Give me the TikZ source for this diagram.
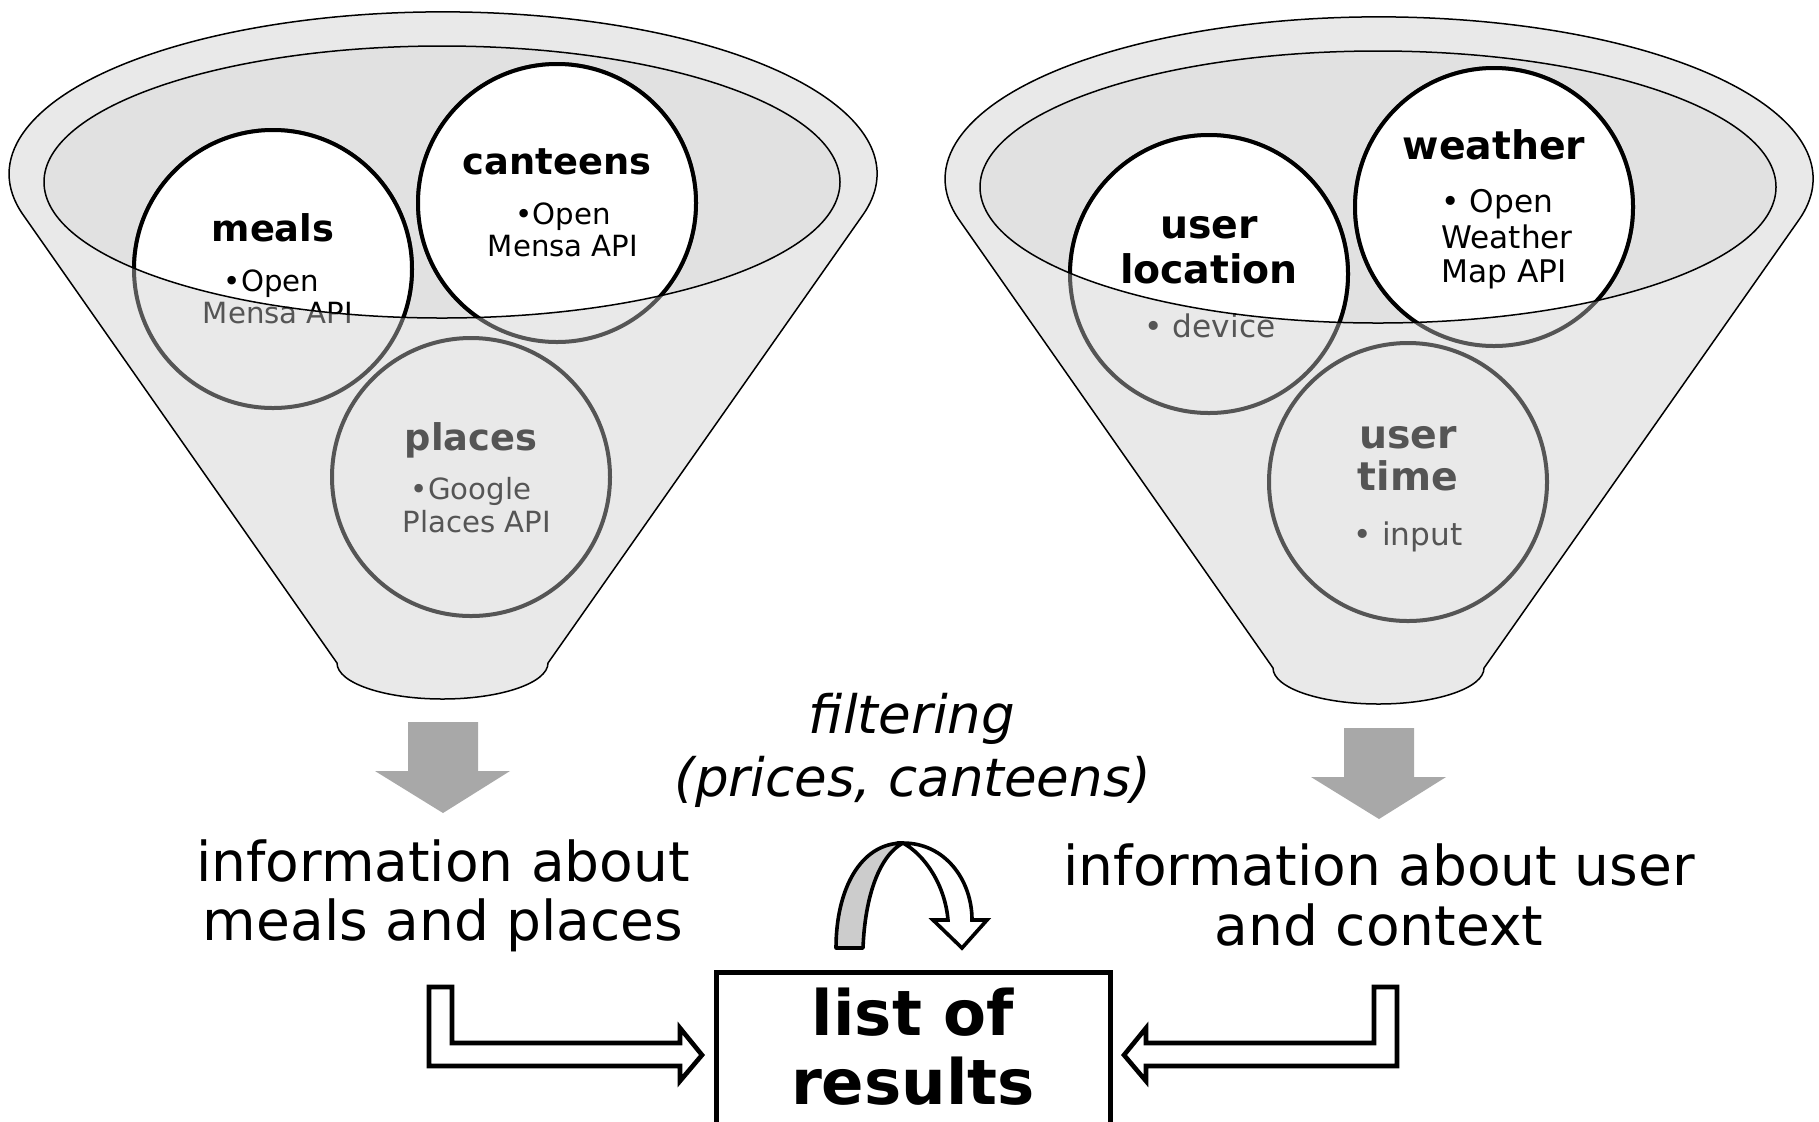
\documentclass[tikz,border=0pt]{standalone}
\usepackage{fontspec}
\setmainfont{DejaVu Sans}

\definecolor{funnelfill}{RGB}{233,233,233}
\definecolor{rimfill}{RGB}{225,225,225}
\definecolor{faded}{RGB}{85,85,85}
\definecolor{flowgray}{RGB}{168,168,168}
\definecolor{ribbon}{RGB}{204,204,204}

\newcommand{\fsz}[2]{\fontsize{#1}{#2}\selectfont}

\tikzset{
  funnelbody/.style={fill=funnelfill, draw=black, line width=0.75pt, line join=round},
  rimline/.style={draw=black, line width=0.75pt},
  srcring/.style={line width=2pt},
  lhead/.style={anchor=base, inner sep=0pt, font=\bfseries\fsz{18.4}{21}},
  rhead/.style={anchor=base, inner sep=0pt, font=\bfseries\fsz{19.7}{22}},
  lbody/.style={anchor=base, inner sep=0pt, font=\fsz{14.6}{16}},
  rbody/.style={anchor=base, inner sep=0pt, font=\fsz{15.6}{17}},
  bigtext/.style={anchor=base, inner sep=0pt, font=\fsz{27.5}{30}},
  filtertext/.style={anchor=base, inner sep=0pt, font=\itshape\fsz{26.5}{30}},
  resulttext/.style={anchor=base, inner sep=0pt, font=\bfseries\fsz{31.3}{34}},
  downflow/.style={fill=flowgray},
  hollow/.style={draw=black, fill=white, line width=2.3pt, line join=miter},
  ring/.style={circle, minimum size=139pt, inner sep=0pt, draw=faded, srcring},
}

% funnel outline: rim arc, two tangent sides and the rounded spout
\newcommand{\funnelshape}{%
  \path[funnelbody] (862.8,215)
    arc[start angle=-14.7, end angle=194.7, x radius=217pt, y radius=81pt]
    -- (337,663)
    arc[start angle=180, end angle=360, x radius=52.75pt, y radius=18pt]
    -- cycle;
}

% labels of the meal/place sources, #1 = name suffix, #2 = colour
\newcommand{\mealtexts}[2]{%
  \node[lhead, text=#2] (mealshd#1) at (273,241) {meals};
  \node[lbody, text=#2] (mealsa#1) at (271.5,291) {•Open};
  \node[lbody, text=#2] (mealsb#1) at (278,323) {Mensa API};
  \node[lhead, text=#2] (canthd#1) at (557,174) {canteens};
  \node[lbody, text=#2] (canta#1) at (563,224) {•Open};
  \node[lbody, text=#2] (cantb#1) at (563,256) {Mensa API};
  \node[lhead, text=#2] (plchd#1) at (471,450) {places};
  \node[lbody, text=#2] (plca#1) at (471,499) {•Google};
  \node[lbody, text=#2] (plcb#1) at (477,532) {Places API};
}

% labels of the user/context sources, #1 = name suffix, #2 = colour
\newcommand{\contexttexts}[2]{%
  \node[rhead, text=#2] (lochda#1) at (1209,238) {user};
  \node[rhead, text=#2] (lochdb#1) at (1209,283) {location};
  \node[rbody, text=#2] (loca#1) at (1210,337) {• device};
  \node[rhead, text=#2] (wthhd#1) at (1494,159) {weather};
  \node[rbody, anchor=base west, text=#2] (wtha#1) at (1441,212) {• Open};
  \node[rbody, anchor=base west, text=#2] (wthb#1) at (1441,248) {Weather};
  \node[rbody, anchor=base west, text=#2] (wthc#1) at (1441,282) {Map API};
  \node[rhead, text=#2] (timhda#1) at (1408,448) {user};
  \node[rhead, text=#2] (timhdb#1) at (1408,490) {time};
  \node[rbody, text=#2] (tima#1) at (1408,545) {• input};
}

\begin{document}
\begin{tikzpicture}[x=0.5pt, y=-0.5pt]
\useasboundingbox (0,0) rectangle (1819,1121);
\fill[white] (0,0) rectangle (1819,1121);

% ---------- left funnel: meals and places ----------
\funnelshape
\fill[rimfill] (442,182) ellipse[x radius=199pt, y radius=68pt];
\node[ring] (meals) at (273,269) {};
\node[ring] (canteens) at (557,203) {};
\node[ring] (places) at (471,477) {};
\mealtexts{g}{faded}
\begin{scope}
  \clip (442,182) ellipse[x radius=199pt, y radius=68pt];
  \foreach \c in {meals,canteens,places}{
    \fill[white] (\c.center) circle[radius=69.5pt];
    \draw[black, srcring] (\c.center) circle[radius=69.5pt];
  }
  \mealtexts{k}{black}
\end{scope}
\draw[rimline] (442,182) ellipse[x radius=199pt, y radius=68pt];

% ---------- right funnel: user and context ----------
\begin{scope}[shift={(936,5)}]
  \funnelshape
  \fill[rimfill] (442,182) ellipse[x radius=199pt, y radius=68pt];
\end{scope}
\node[ring] (location) at (1209,274) {};
\node[ring] (weather) at (1494,207) {};
\node[ring] (usertime) at (1408,482) {};
\contexttexts{g}{faded}
\begin{scope}
  \clip (1378,187) ellipse[x radius=199pt, y radius=68pt];
  \foreach \c in {location,weather,usertime}{
    \fill[white] (\c.center) circle[radius=69.5pt];
    \draw[black, srcring] (\c.center) circle[radius=69.5pt];
  }
  \contexttexts{k}{black}
\end{scope}
\draw[rimline] (1378,187) ellipse[x radius=199pt, y radius=68pt];

% ---------- grey flow arrows below the funnels ----------
\fill[downflow] (408,722) -- (478,722) -- (478,771) -- (510,771) -- (443,813)
  -- (375,771) -- (408,771) -- cycle;
\fill[downflow] (1344,728) -- (1414,728) -- (1414,777) -- (1446,777) -- (1379,819)
  -- (1311,777) -- (1344,777) -- cycle;

% ---------- captions ----------
\node[bigtext] (infoLa) at (443,881) {information about};
\node[bigtext] (infoLb) at (443,940) {meals and places};
\node[bigtext] (infoRa) at (1379,885) {information about user};
\node[bigtext] (infoRb) at (1379,945) {and context};
\node[filtertext] (filta) at (912,733) {filtering};
\node[filtertext] (filtb) at (913,796) {(prices, canteens)};

% ---------- filtering loop arrow ----------
\draw[fill=white, line width=1.8pt, line join=miter]
  (903,843) .. controls (945,843) and (972,880) .. (972,920)
  -- (987,920) -- (962,948) -- (933,920) -- (948,920)
  .. controls (945,885) and (925,855) .. (903,843) -- cycle;
\draw[fill=ribbon, line width=1.8pt, line join=round]
  (836,948) .. controls (836,890) and (860,843) .. (903,843)
  .. controls (880,855) and (865,895) .. (863,948) -- cycle;

% ---------- result box ----------
\draw[line width=2.5pt] (716,1135) -- (716,972) -- (1110,972) -- (1110,1135);
\node[resulttext] (resa) at (913,1035) {list of};
\node[resulttext] (resb) at (913,1104) {results};

% ---------- hollow elbow arrows into the result box ----------
\draw[hollow] (429,987) -- (452,987) -- (452,1043) -- (680,1043) -- (680,1028)
  -- (702,1055) -- (680,1081) -- (680,1066) -- (429,1066) -- cycle;
\draw[hollow] (1397,987) -- (1374,987) -- (1374,1043) -- (1146,1043) -- (1146,1028)
  -- (1124,1055) -- (1146,1081) -- (1146,1066) -- (1397,1066) -- cycle;
\end{tikzpicture}
\end{document}
